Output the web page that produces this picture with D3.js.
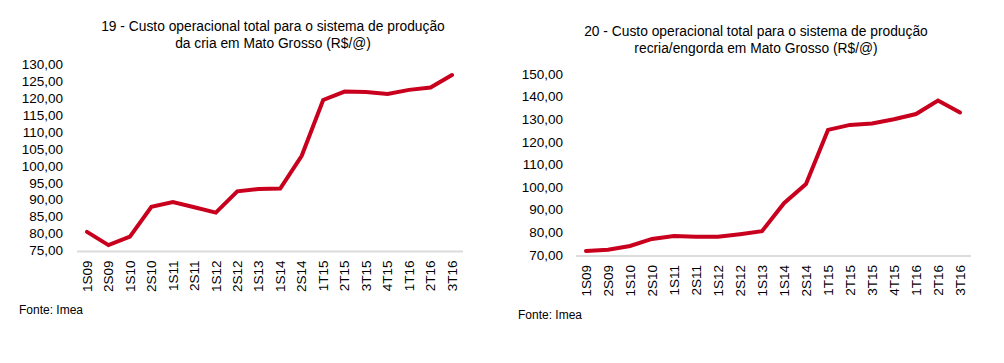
<!DOCTYPE html>
<html>
<head>
<meta charset="utf-8">
<script src="https://cdn.jsdelivr.net/npm/d3@7"></script>
<style>
  body { margin: 0; background: #fff; }
  svg text { font-family: "Liberation Sans", Arial, sans-serif; fill: #000; }
</style>
</head>
<body>
<svg id="chart" width="1004" height="363"></svg>
<script>
// periods shared by both charts
const periods = ['1S09', '2S09', '1S10', '2S10', '1S11', '2S11', '1S12', '2S12', '1S13',
  '1S14', '2S14', '1T15', '2T15', '3T15', '4T15', '1T16', '2T16', '3T16'];

// 19 - cria
const criaValues = [80.5, 76.6, 79.1, 87.9, 89.3, 87.8, 86.2, 92.5, 93.2,
  93.3, 103.0, 119.5, 122.0, 121.9, 121.3, 122.5, 123.2, 126.9];
const criaTicks = [75, 80, 85, 90, 95, 100, 105, 110, 115, 120, 125, 130];

// 20 - recria/engorda
const recriaValues = [71.8, 72.3, 74.0, 77.1, 78.4, 78.1, 78.1, 79.2, 80.5,
  92.9, 101.4, 125.3, 127.5, 128.1, 130.0, 132.3, 138.3, 133.0];
const recriaTicks = [70, 80, 90, 100, 110, 120, 130, 140, 150];

const svg = d3.select('#chart');
const fmt = v => d3.format('.2f')(v).replace('.', ',');

function drawChart(cfg) {
  const g = svg.append('g');

  const x = d3.scalePoint()
    .domain(periods)
    .range([cfg.x0, cfg.x1]);

  const y = d3.scaleLinear()
    .domain([cfg.ticks[0], cfg.ticks[cfg.ticks.length - 1]])
    .range([cfg.yBottom, cfg.yTop]);

  // title
  const title = g.append('text')
    .attr('text-anchor', 'middle')
    .style('font-size', '13.8px');
  cfg.title.forEach((line, i) => {
    title.append('tspan')
      .attr('x', cfg.titleX)
      .attr('y', cfg.titleY + i * 17)
      .text(line);
  });

  // y labels
  g.selectAll('.ylab')
    .data(cfg.ticks)
    .enter().append('text')
    .attr('x', cfg.yLabelX)
    .attr('y', d => y(d))
    .attr('dy', '0.35em')
    .attr('text-anchor', 'end')
    .style('font-size', '13.5px')
    .text(fmt);

  // baseline
  g.append('line')
    .attr('x1', cfg.axisX0)
    .attr('x2', cfg.axisX1)
    .attr('y1', cfg.yBottom + 1)
    .attr('y2', cfg.yBottom + 1)
    .attr('stroke', '#dcdcdc')
    .attr('stroke-width', 2);

  // x labels
  g.selectAll('.xlab')
    .data(periods)
    .enter().append('text')
    .attr('transform', d => `translate(${x(d)}, ${cfg.yBottom + 10}) rotate(-90)`)
    .attr('dy', '0.35em')
    .attr('text-anchor', 'end')
    .style('font-size', '13.5px')
    .text(d => d);

  // line
  const line = d3.line()
    .x((d, i) => x(periods[i]))
    .y(d => y(d));

  g.append('path')
    .datum(cfg.values)
    .attr('d', line)
    .attr('fill', 'none')
    .attr('stroke', '#c8001e')
    .attr('stroke-width', 4)
    .attr('stroke-linejoin', 'miter')
    .attr('stroke-linecap', 'round');

  // source
  g.append('text')
    .attr('x', cfg.sourceX)
    .attr('y', cfg.sourceY)
    .attr('dy', '0.35em')
    .style('font-size', '12px')
    .text('Fonte: Imea');
}

drawChart({
  title: ['19 - Custo operacional total para o sistema de produção', 'da cria em Mato Grosso (R$/@)'],
  titleX: 273, titleY: 31,
  values: criaValues, ticks: criaTicks,
  x0: 87, x1: 452, axisX0: 77, axisX1: 463,
  yTop: 64.5, yBottom: 250.5, yLabelX: 63,
  sourceX: 19, sourceY: 310
});

drawChart({
  title: ['20 - Custo operacional total para o sistema de produção', 'recria/engorda em Mato Grosso (R$/@)'],
  titleX: 756, titleY: 36,
  values: recriaValues, ticks: recriaTicks,
  x0: 586, x1: 960, axisX0: 576, axisX1: 971,
  yTop: 74, yBottom: 255, yLabelX: 563,
  sourceX: 518, sourceY: 315
});
</script>
</body>
</html>
